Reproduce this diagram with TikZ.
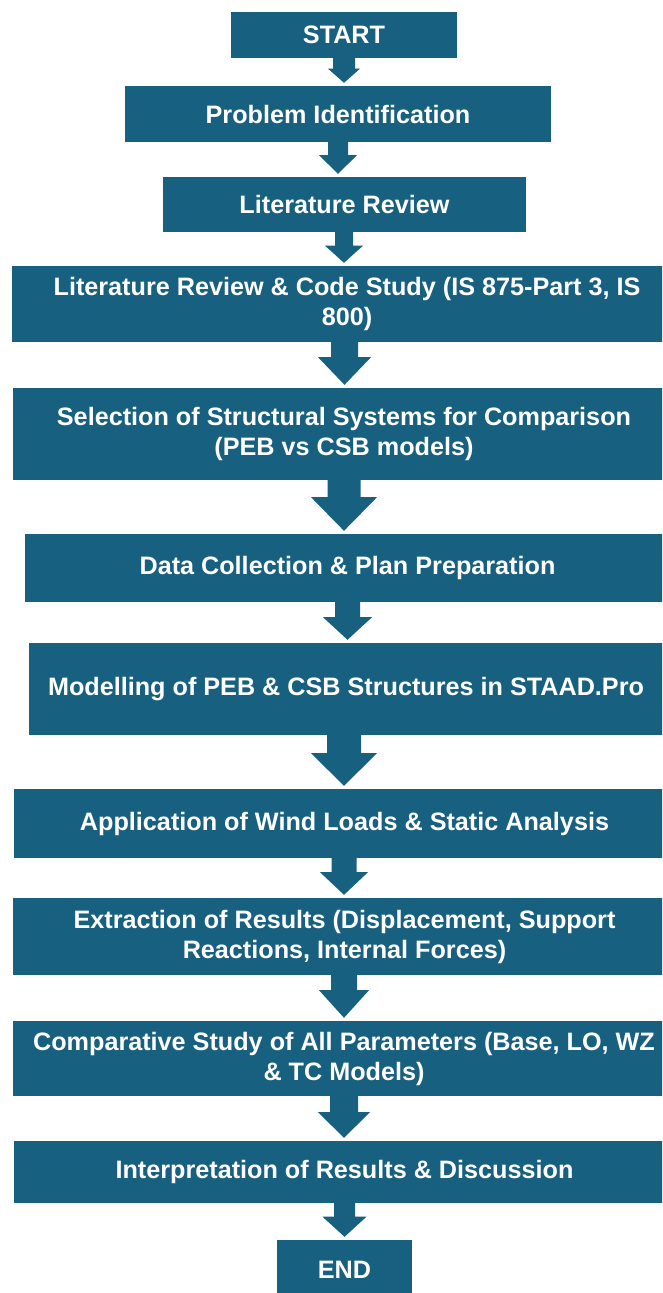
\documentclass[tikz,border=0pt]{standalone}
\usepackage{fontspec}
\setmainfont{Liberation Sans}
\usetikzlibrary{calc}

\definecolor{flowblue}{RGB}{24,96,128}

\tikzset{
  stage/.style={rectangle, fill=flowblue, text=white, inner sep=0pt,
    align=center, font=\fontsize{25.2}{30}\selectfont\bfseries},
}

% block arrow: from, to, x, stem half width, head half width, stem length
\newcommand{\blockarrow}[6]{%
  \fill[flowblue] let \p1=(#1.south), \p2=(#2.north) in
    ({(#3-#4)*1pt},\y1) -- ({(#3+#4)*1pt},\y1) -- ({(#3+#4)*1pt},{\y1-#6pt})
    -- ({(#3+#5)*1pt},{\y1-#6pt}) -- ({#3pt},{\y2+3pt})
    -- ({(#3-#5)*1pt},{\y1-#6pt}) -- ({(#3-#4)*1pt},{\y1-#6pt}) -- cycle;}

\begin{document}
\begin{tikzpicture}[x=1pt, y=-1pt]
  \useasboundingbox (0,0) rectangle (662,1293);
  \clip (0,0) rectangle (662,1293);

  \node[stage, minimum width=226, minimum height=46] (start) at (344,34.5) {START};
  \node[stage, minimum width=426, minimum height=56] (probid) at (338,114) {Problem Identification};
  \node[stage, minimum width=363, minimum height=55] (litrev) at (344.5,204.5) {Literature Review};
  \node[stage, minimum width=670, minimum height=76] (codes) at (347,304)
    {Literature Review \& Code Study (IS 875-Part 3, IS\\800)};
  \node[stage, minimum width=662, minimum height=92] (select) at (344,434)
    {Selection of Structural Systems for Comparison\\(PEB vs CSB models)};
  \node[stage, minimum width=645, minimum height=68] (data) at (347.5,568)
    {Data Collection \& Plan Preparation};
  \node[stage, minimum width=634, minimum height=92] (model) at (346,689)
    {Modelling of PEB \& CSB Structures in STAAD.Pro};
  \node[stage, minimum width=662, minimum height=69] (wind) at (344.5,823.5)
    {Application of Wind Loads \& Static Analysis};
  \node[stage, minimum width=663, minimum height=77] (extract) at (344.5,936.5)
    {Extraction of Results (Displacement, Support\\Reactions, Internal Forces)};
  \node[stage, minimum width=662, minimum height=75] (compare) at (344,1058.5)
    {Comparative Study of All Parameters (Base, LO, WZ\\\& TC Models)};
  \node[stage, minimum width=662, minimum height=62] (interp) at (344.5,1172)
    {Interpretation of Results \& Discussion};
  \node[stage, minimum width=135, minimum height=60] (end) at (344.5,1270) {END};

  \blockarrow{start}{probid}{344}{11}{16}{11}
  \blockarrow{probid}{litrev}{338}{10}{19}{13}
  \blockarrow{litrev}{codes}{344}{9}{19}{13.5}
  \blockarrow{codes}{select}{344.5}{13.5}{26.5}{15}
  \blockarrow{select}{data}{344}{16.5}{33}{17}
  \blockarrow{data}{model}{347.5}{12.5}{24.5}{15}
  \blockarrow{model}{wind}{344}{17}{33}{18}
  \blockarrow{wind}{extract}{344}{12.5}{24}{14}
  \blockarrow{extract}{compare}{344}{13}{25}{15}
  \blockarrow{compare}{interp}{344}{14}{26}{16}
  \blockarrow{interp}{end}{344.5}{10.5}{22}{13.5}
\end{tikzpicture}
\end{document}
